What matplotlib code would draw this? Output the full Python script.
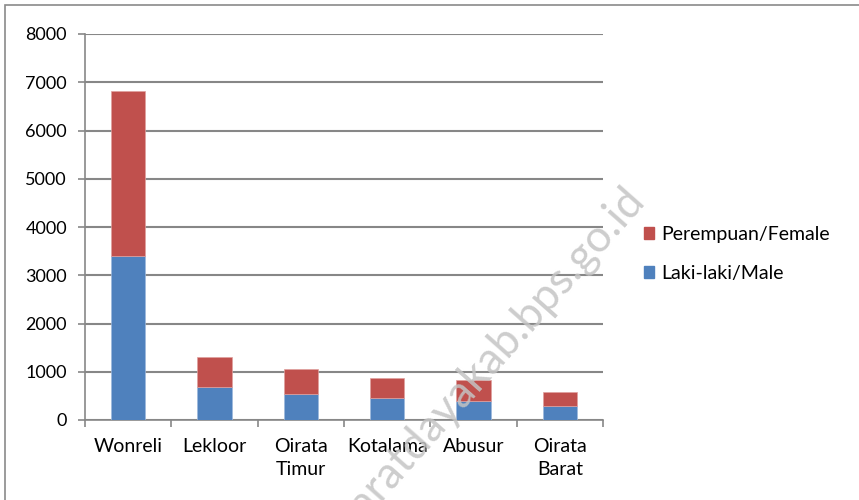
import numpy as np
import matplotlib.pyplot as plt
from matplotlib.patches import Rectangle, Patch

plt.rcParams['font.family'] = ['Lato', 'DejaVu Sans']

kecamatan = ['Wonreli', 'Lekloor', 'Oirata\nTimur', 'Kotalama', 'Abusur', 'Oirata\nBarat']
laki = [3395, 676, 537, 448, 399, 296]
perempuan = [3425, 632, 510, 414, 427, 283]

c_laki = '#4F81BD'
c_per = '#C0504D'
grid_c = '#878787'

fig = plt.figure(figsize=(8.59, 5.0), dpi=100)
ax = fig.add_axes([85 / 859, 80 / 500, 518 / 859, 386 / 500])

x = np.arange(len(kecamatan))
ax.bar(x, laki, width=0.4, color=c_laki, edgecolor='#9db8dc', linewidth=0.5, zorder=3)
ax.bar(x, perempuan, bottom=laki, width=0.4, color=c_per, edgecolor='#e0a09e', linewidth=0.5, zorder=3)

ax.set_xlim(-0.5, len(kecamatan) - 0.5)
ax.set_ylim(0, 8000)
ax.set_yticks(np.arange(0, 8001, 1000))
ax.yaxis.grid(True, color=grid_c, linewidth=1.5, zorder=0)

ax.set_xticks(x)
ax.set_xticklabels(kecamatan, fontsize=14, linespacing=1.45)
ax.set_xticks(np.arange(-0.5, len(kecamatan)), minor=True)
ax.tick_params(axis='x', which='major', length=0, pad=13)
ax.tick_params(axis='x', which='minor', length=5, color=grid_c, width=1.2)
ax.tick_params(axis='y', length=5, color=grid_c, width=1.2, labelsize=13, pad=8)

for s in ['top', 'right']:
    ax.spines[s].set_visible(False)
for s in ['left', 'bottom']:
    ax.spines[s].set_color(grid_c)
    ax.spines[s].set_linewidth(1.2)

handles = [Patch(color=c_per, label='Perempuan/Female'),
           Patch(color=c_laki, label='Laki-laki/Male')]
fig.legend(handles=handles, loc='center left', bbox_to_anchor=(626 / 859, 1 - 254 / 500),
           frameon=False, fontsize=14, handlelength=0.55, handleheight=0.55,
           handletextpad=0.35, labelspacing=1.15)

# chart frame
fig.patches.append(Rectangle((5 / 859, -0.1), 1.0, 1 - 5 / 500 + 0.1, transform=fig.transFigure,
                             fill=False, edgecolor='#8a8a8a', linewidth=1.2))

# watermark
fig.text(646 / 859, 1 - 200 / 500, 'malukubaratdayakab.bps.go.id', fontsize=32,
         rotation=48.5, rotation_mode='anchor', ha='right',
         va='baseline', color='#c4c4c4', alpha=0.85, zorder=10)

fig.savefig('out.png', dpi=100)
